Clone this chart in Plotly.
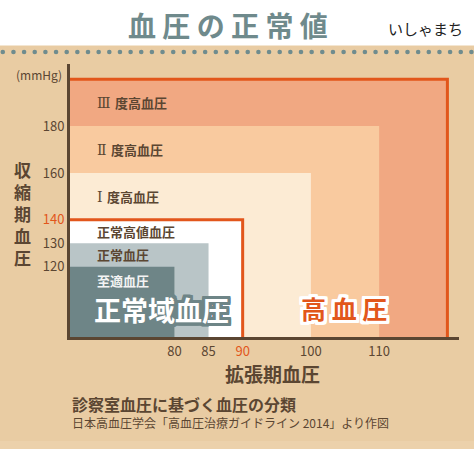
import plotly.graph_objects as go

# 血圧の分類 (診察室血圧, mmHg)
numerals = ["Ⅲ", "Ⅱ", "Ⅰ", "", "", ""]
categories = ["度高血圧", "度高血圧", "度高血圧", "正常高値血圧", "正常血圧", "至適血圧"]
diastolic_upper = [120, 110, 100, 90, 85, 80]
systolic_upper = [200, 180, 160, 140, 130, 120]
label_y = [190, 170, 150, 135, 125, 114]

x_ticks = [80, 85, 90, 100, 110]
y_ticks = [120, 130, 140, 160, 180]

fill_colors = ["#F1A882", "#F9CA9F", "#FCEBD4", "#FFFFFF", "#B9C5C7", "#6E8587"]
label_colors = ["#5B4632", "#5B4632", "#5B4632", "#5B4632", "#5B4632", "#F4F4F4"]

X0, X1 = 64.7, 121.7
Y0, Y1 = 90, 206.5

BG = "#E9CCA3"
BROWN = "#5B4632"
ORANGE = "#E2561B"
SLATE = "#6E8587"
FONT = "Noto Sans CJK JP"

# 描画領域のピクセル位置 (図 474x449)
L, R, T, B = 70, 459, 64, 337


def px(x):
    return (x - L) / (R - L)


def py(y):
    return (B - y) / (B - T)


def outline(color, w):
    offs = []
    for dx in range(-w, w + 1):
        for dy in range(-w, w + 1):
            if dx or dy:
                offs.append(f"{dx}px {dy}px 0 {color}")
    return ", ".join(offs)


fig = go.Figure()
fig.add_trace(go.Scatter(x=[X0], y=[Y0], mode="markers", marker=dict(opacity=0), hoverinfo="skip"))

shapes = []
# 上部の白い帯と点線、下端の帯
shapes.append(dict(type="rect", xref="paper", yref="paper", x0=px(-5), x1=px(480),
                   y0=py(45.5), y1=py(-5), fillcolor="white", line=dict(width=0), layer="below"))
shapes.append(dict(type="rect", xref="paper", yref="paper", x0=px(-5), x1=px(480),
                   y0=py(455), y1=py(441), fillcolor="#ECD1AB", line=dict(width=0), layer="below"))
for i in range(45):
    cx = 2.8 + i * 10.65
    shapes.append(dict(type="circle", xref="paper", yref="paper",
                       x0=px(cx - 2.3), x1=px(cx + 2.3), y0=py(52 + 2.3), y1=py(52 - 2.3),
                       fillcolor="#6F8C8E", line=dict(width=0), layer="below"))

# 分類ごとの領域
for dia, sys_, col in zip(diastolic_upper, systolic_upper, fill_colors):
    shapes.append(dict(type="rect", xref="x", yref="y", x0=X0, x1=dia, y0=Y0, y1=sys_,
                       fillcolor=col, line=dict(width=0), layer="below"))

# 高血圧の境界線 (140/90 と外枠)
for dia, sys_ in [(diastolic_upper[0], systolic_upper[0]), (diastolic_upper[3], systolic_upper[3])]:
    shapes.append(dict(type="path", xref="x", yref="y",
                       path=f"M {X0},{sys_} L {dia},{sys_} L {dia},{Y0}",
                       line=dict(color=ORANGE, width=3), layer="below"))

annotations = []
for num, name, y, col in zip(numerals, categories, label_y, label_colors):
    text = name
    if num:
        text = (f"<span style='font-family:DejaVu Serif;font-weight:normal;font-size:14px'>"
                f"{num} </span>{name}")
    annotations.append(dict(x=68.4, y=y, xref="x", yref="y", text=text,
                            xanchor="left",
                            font=dict(family=FONT, size=13, color=col, weight="bold")))

annotations += [
    dict(x=px(228), y=py(25), text="血 圧 の 正 常 値",
         font=dict(family=FONT, size=28, color="#6F8A8C", weight="bold")),
    dict(x=px(425), y=py(28), text="いしゃまち",
         font=dict(family=FONT, size=15, color="#222222")),
    dict(x=px(64), y=py(75), text="(mmHg)", xanchor="right",
         font=dict(family=FONT, size=12, color=BROWN)),
    dict(x=px(22), y=py(213), text="収<br>縮<br>期<br>血<br>圧",
         font=dict(family=FONT, size=17, color=BROWN, weight="bold")),
    dict(x=px(272), y=py(373), text="拡張期血圧",
         font=dict(family=FONT, size=19, color=BROWN, weight="bold")),
    dict(x=px(70), y=py(404), text="診察室血圧に基づく血圧の分類", xanchor="left",
         font=dict(family=FONT, size=16, color=BROWN, weight="bold")),
    dict(x=px(70), y=py(422), text="日本高血圧学会「高血圧治療ガイドライン 2014」より作図", xanchor="left",
         font=dict(family=FONT, size=12, color=BROWN)),
    dict(x=px(161.5), y=py(309), text="正常域血圧",
         font=dict(family=FONT, size=27, color="white", weight="bold", shadow=outline(SLATE, 3))),
    dict(x=px(344), y=py(308), text="高 血 圧",
         font=dict(family=FONT, size=25, color=ORANGE, weight="bold", shadow=outline("white", 3))),
]
for a in annotations:
    a.setdefault("xref", "paper")
    a.setdefault("yref", "paper")
    a.setdefault("xanchor", "center")
    a.setdefault("yanchor", "middle")
    a.setdefault("showarrow", False)

fig.update_layout(
    width=474,
    height=449,
    margin=dict(l=L, r=474 - R, t=T, b=449 - B),
    paper_bgcolor=BG,
    plot_bgcolor=BG,
    showlegend=False,
    shapes=shapes,
    annotations=annotations,
    xaxis=dict(
        range=[X0, X1], showgrid=False, zeroline=False,
        showline=True, linecolor=BROWN, linewidth=3,
        tickvals=x_ticks,
        ticktext=[f"<span style='color:{ORANGE}'>{v}</span>" if v == 90 else str(v) for v in x_ticks],
        tickfont=dict(family=FONT, size=13, color=BROWN),
    ),
    yaxis=dict(
        range=[Y0, Y1], showgrid=False, zeroline=False,
        showline=True, linecolor=BROWN, linewidth=3,
        tickvals=y_ticks,
        ticktext=[f"<span style='color:{ORANGE}'>{v}</span>" if v == 140 else str(v) for v in y_ticks],
        tickfont=dict(family=FONT, size=13, color=BROWN),
    ),
)

fig.write_html("out.html", config={"displayModeBar": False},
               post_script="document.body.style.margin = '0';")
